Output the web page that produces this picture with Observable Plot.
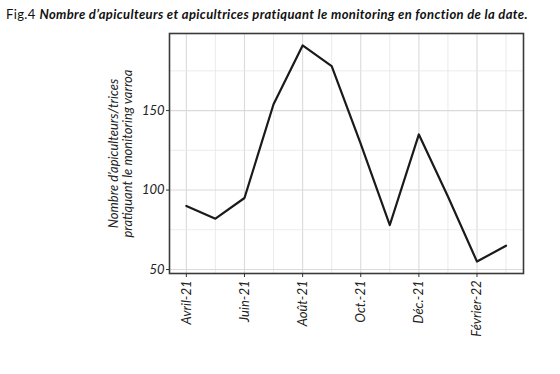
<!DOCTYPE html>
<html>
<head>
<meta charset="utf-8">
<script src="https://cdn.jsdelivr.net/npm/d3@7"></script>
<script src="https://cdn.jsdelivr.net/npm/@observablehq/plot@0.6"></script>
<style>
  html, body { margin: 0; padding: 0; background: #fff; }
  #title { height: 26px; box-sizing: border-box; padding: 7px 0 0 6px; font-family: Lato, sans-serif; font-size: 13px; letter-spacing: 0.37px; line-height: 15px; color: #111; white-space: nowrap; }
  #title .fig { font-weight: normal; font-style: normal; }
  #title .t { font-weight: bold; font-style: italic; }
  svg { display: block; }
</style>
</head>
<body>
<div id="title"><span class="fig">Fig.4</span> <span class="t">Nombre d’apiculteurs et apicultrices pratiquant le monitoring en fonction de la date.</span></div>
<div id="chart"></div>
<script>
const months = ["Avril-21","Mai-21","Juin-21","Juillet-21","Août-21","Sept.-21","Oct.-21","Nov.-21","Déc.-21","Janvier-22","Février-22","Mars-22"];
const values = [90, 82, 95, 154, 191, 178, 129, 78, 135, 96, 55, 65];
const tickLabels = ["Avril-21","Juin-21","Août-21","Oct.-21","Déc.-21","Février-22"];
const yTicks = [50, 100, 150];
const yMinorTicks = [75, 125, 175];
const yTitle = "Nombre d’apiculteurs/trices\npratiquant le monitoring varroa";

const data = months.map((m, i) => ({i, month: m, value: values[i]}));
const majorX = tickLabels.map(l => months.indexOf(l));
const minorX = months.map((m, i) => i).filter(i => !majorX.includes(i));

const chart = Plot.plot({
  width: 560,
  height: 348,
  marginLeft: 169,
  marginRight: 37,
  marginTop: 7,
  marginBottom: 101,
  style: {fontFamily: "Lato, sans-serif", fontSize: "13px", fontStyle: "italic", color: "#222"},
  x: {type: "linear", domain: [-0.58, 11.6]},
  y: {domain: [47.5, 198.5]},
  marks: [
    Plot.gridX(minorX, {stroke: "#e6e6e6", strokeOpacity: 1, strokeWidth: 0.8}),
    Plot.gridX(majorX, {stroke: "#dadada", strokeOpacity: 1, strokeWidth: 1.1}),
    Plot.gridY(yMinorTicks, {stroke: "#e6e6e6", strokeOpacity: 1, strokeWidth: 0.8}),
    Plot.gridY(yTicks, {stroke: "#dadada", strokeOpacity: 1, strokeWidth: 1.1}),
    Plot.line(data, {x: "i", y: "value", stroke: "#1a1a1a", strokeWidth: 2.2}),
    Plot.frame({stroke: "#3a3a3a", strokeWidth: 1.6}),
    Plot.axisX(majorX, {tickFormat: i => months[i], tickRotate: -90, tickSize: 4, tickPadding: 3, label: null, stroke: "#333"}),
    Plot.axisY(yTicks, {tickSize: 3, tickPadding: 2, label: null, stroke: "#333"}),
    Plot.text([yTitle], {frameAnchor: "left", rotate: -90, dx: -49, text: d => d, lineHeight: 1.1, textAnchor: "middle", lineAnchor: "middle", fill: "#222", fontStyle: "italic"})
  ]
});
document.getElementById("chart").appendChild(chart);
</script>
</body>
</html>
